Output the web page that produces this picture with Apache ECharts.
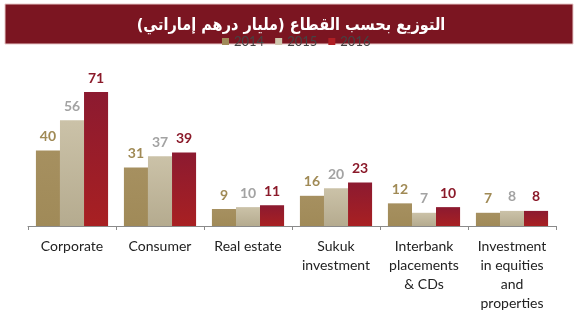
<!DOCTYPE html>
<html><head><meta charset="utf-8">
<script src="https://cdn.jsdelivr.net/npm/echarts@6/dist/echarts.min.js"></script>
<style>html,body{margin:0;padding:0;background:#fff}#c{width:580px;height:322px}</style>
</head><body><div id="c"></div>
<script>
const title = 'التوزيع بحسب القطاع (مليار درهم إماراتي)';
const categories = ['Corporate', 'Consumer', 'Real estate', 'Sukuk\ninvestment', 'Interbank\nplacements\n& CDs', 'Investment\nin equities\nand\nproperties'];
const seriesNames = ['2014', '2015', '2016'];
const values2014 = [40, 31, 9, 16, 12, 7];
const values2015 = [56, 37, 10, 20, 7, 8];
const values2016 = [71, 39, 11, 23, 10, 8];

const chart = echarts.init(document.getElementById('c'));
const grad = (a, b) => new echarts.graphic.LinearGradient(0, 0, 0, 1, [{offset: 0, color: a}, {offset: 1, color: b}]);
const barColors = [grad('#a69060', '#a08a58'), grad('#cbc2a8', '#b5ab8f'), grad('#8c1a30', '#a82022')];
const labelColors = ['#a08a55', '#a3a3a3', '#8b1a2a'];
const data = [values2014, values2015, values2016];
chart.setOption({
  animation: false,
  legend: {
    top: 35, left: 222, padding: 0, itemWidth: 7, itemHeight: 7, itemGap: 11,
    textStyle: {fontFamily: 'Lato', fontSize: 13, color: '#444'},
    data: seriesNames.map((n, i) => ({name: n, icon: 'rect', itemStyle: {color: ['#a08a58', '#cfc6ad', '#b01e24'][i]}}))
  },
  graphic: [{
    type: 'group', z: 100, zlevel: 1,
    children: [
      {type: 'rect', shape: {x: 5, y: 4, width: 568, height: 40}, style: {fill: '#7b1521', stroke: '#e8c8c8', lineWidth: 1}},
      {type: 'text', x: 291, y: 26, scaleY: 1.15, style: {text: title, fill: '#fff', font: 'bold 14.5px "DejaVu Sans"', align: 'center', verticalAlign: 'middle'}}
    ]
  }],
  grid: {left: 28, right: 24, top: 75, bottom: 96},
  xAxis: {
    type: 'category', data: categories,
    axisLine: {lineStyle: {color: '#8a8a8a', width: 1}},
    axisTick: {show: true, length: 4, lineStyle: {color: '#8a8a8a'}},
    axisLabel: {interval: 0, fontFamily: 'Lato', fontSize: 14, color: '#222', lineHeight: 19, margin: 11}
  },
  yAxis: {type: 'value', min: 0, max: 80, show: false, splitLine: {show: false}},
  series: data.map((d, i) => ({
    name: seriesNames[i], type: 'bar', data: d,
    barGap: '0%', barCategoryGap: '18%',
    itemStyle: {color: barColors[i]},
    label: {show: true, position: 'top', distance: 7, fontFamily: 'Lato', fontWeight: 'bold', fontSize: 14, color: labelColors[i]}
  }))
});
</script></body></html>
